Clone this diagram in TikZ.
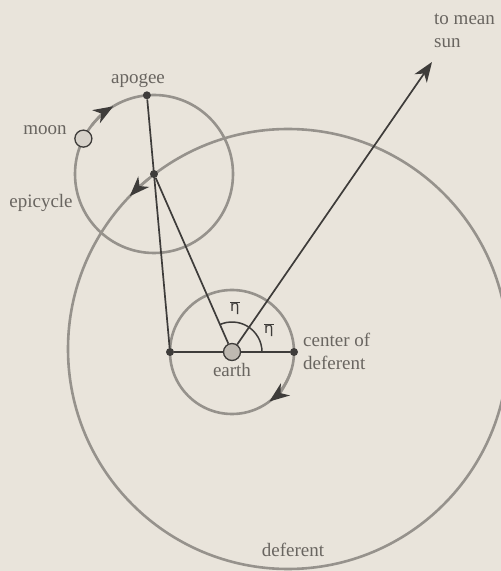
\documentclass[tikz,border=0pt]{standalone}
\usepackage{fontspec}
\setmainfont{Liberation Serif}
\newfontfamily\symf{DejaVu Sans}
\usetikzlibrary{arrows.meta,calc}
\definecolor{paper}{RGB}{233,228,219}
\definecolor{ink}{RGB}{62,60,58}
\definecolor{orb}{RGB}{150,146,140}
\definecolor{txt}{RGB}{105,101,96}
\definecolor{earthfill}{RGB}{190,185,177}
\definecolor{moonfill}{RGB}{215,210,202}
\begin{document}
\begin{tikzpicture}[x=1pt,y=1pt,
  orbit/.style={draw=orb,line width=2.6pt},
  ray/.style={draw=ink,line width=1.7pt},
  dot/.style={circle,fill=ink,inner sep=0pt,minimum size=8pt},
  lbl/.style={text=txt,font=\fontsize{19}{23}\selectfont,inner sep=0pt},
  eta/.style={text=ink,font=\symf\fontsize{15}{17}\selectfont,inner sep=0pt},
  tip/.style={-{Stealth[length=20pt,width=15pt,inset=6pt,color=ink,fill=ink]}}
]
\fill[paper] (0,0) rectangle (501,571);
\useasboundingbox (0,0) rectangle (501,571);
\clip (0,0) rectangle (501,571);
\coordinate (D) at (288,222);
\coordinate (E) at (232,219);
\coordinate (P) at (154,397);
\coordinate (S) at (432,509);
% orbits
\draw[orbit] (D) circle (220);
\draw[orbit] (E) circle (62);
\draw[orbit] (P) circle (79);
\draw[orbit,tip] ($(P)+(142:79)$) arc (142:121:79);
\draw[orbit,tip] ($(D)+(129:220)$) arc (129:136:220);
\draw[orbit,tip] ($(E)+(-18:62)$) arc (-18:-53:62);
% points
\node[dot] (N) at (170,219) {};
\node[dot] (C) at (294,219) {};
\node[dot] (Pd) at (P) {};
\node[dot] (A) at (146.9,475.7) {};
\node[circle,draw=ink,fill=earthfill,line width=1.3pt,minimum size=17pt,inner sep=0pt] (earth) at (E) {};
\node[circle,draw=ink,fill=moonfill,line width=1.3pt,minimum size=17pt,inner sep=0pt] (moon) at ($(P)+(153.4:79)$) {};
% lines
\draw[ray] (N) -- (A);
\draw[ray] (N) -- (earth);
\draw[ray] (earth) -- (C);
\draw[ray] (earth) -- (Pd);
\draw[ray,tip] (earth) -- (S);
\draw[ray,line width=1.5pt] ($(E)+(30,0)$) arc (0:113.7:30);
% labels
\node[lbl,anchor=base west] (tm) at (434,546) {to mean};
\node[lbl,anchor=base west] (sn) at (434,523) {sun};
\node[lbl,anchor=base] (apg) at (138,487) {apogee};
\node[lbl,anchor=base] (mn) at (45,436) {moon};
\node[lbl,anchor=base] (ep) at (41,363) {epicycle};
\node[lbl,anchor=base] (ea) at (232,194) {earth};
\node[lbl,anchor=base west] (cd1) at (303,224) {center of};
\node[lbl,anchor=base west] (cd2) at (303,201) {deferent};
\node[lbl,anchor=base] (df) at (293,14) {deferent};
\node[eta] (e1) at (235,263) {$\overline{\hbox{η}}$};
\node[eta] (e2) at (269,241) {$\overline{\hbox{η}}$};
\end{tikzpicture}
\end{document}
